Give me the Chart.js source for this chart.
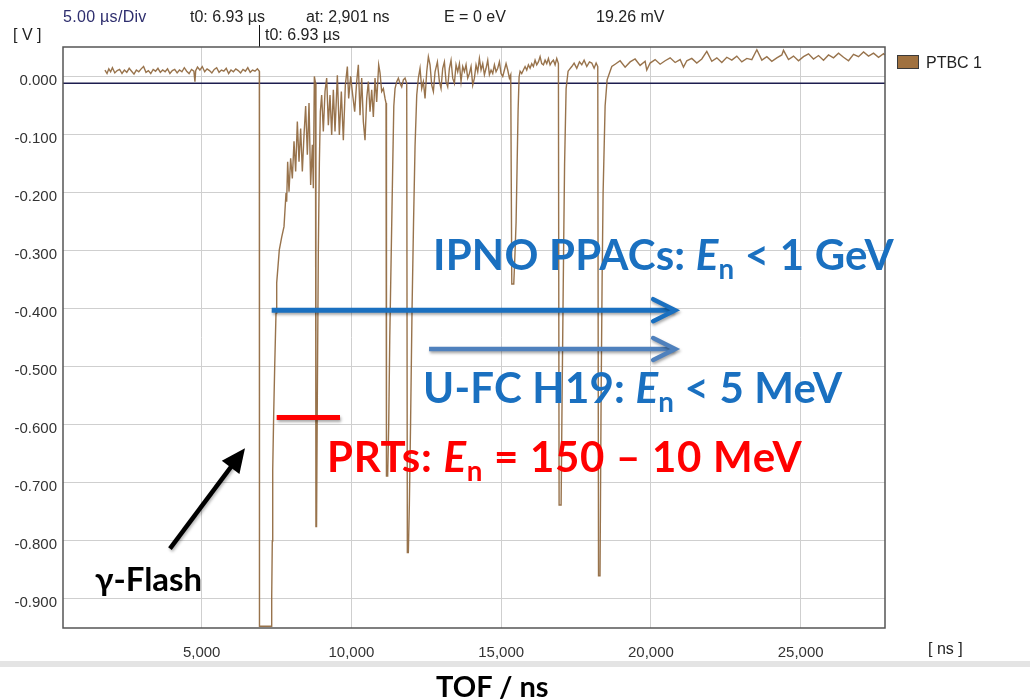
<!DOCTYPE html>
<html><head><meta charset="utf-8">
<script src="https://cdn.jsdelivr.net/npm/chart.js@4.4.1/dist/chart.umd.min.js"></script>
<style>
html,body{margin:0;padding:0;background:#fff;}
#wrap{position:relative;width:1030px;height:700px;overflow:hidden;font-family:"Liberation Sans",Arial,sans-serif;}
#c{position:absolute;left:0;top:0;}
.t{position:absolute;white-space:nowrap;line-height:1;}
.hdr{font-size:16px;color:#222;}
.ann{font-family:Lato,"Open Sans",sans-serif;font-weight:bold;font-size:42px;}
.ann i{font-style:italic;}
.ann .sb{font-size:0.66em;position:relative;top:0.32em;font-style:normal;}
#strip{position:absolute;left:0;top:661px;width:1030px;height:6px;background:#e4e4e4;}
</style></head>
<body><div id="wrap">
<canvas id="c" width="1030" height="700"></canvas>
<div id="strip"></div>
<div class="t hdr" style="left:63px;top:9px;color:#2e2e6e;letter-spacing:0.3px;">5.00 µs/Div</div>
<div class="t hdr" style="left:190px;top:9px;">t0: 6.93 µs</div>
<div class="t hdr" style="left:306px;top:9px;">at: 2,901 ns</div>
<div class="t hdr" style="left:444px;top:9px;">E = 0 eV</div>
<div class="t hdr" style="left:596px;top:9px;">19.26 mV</div>
<div class="t hdr" style="left:13px;top:27px;">[ V ]</div>
<div class="t hdr" style="left:265px;top:27px;">t0: 6.93 µs</div>
<div class="t hdr" style="left:926px;top:55px;">PTBC 1</div>
<div class="t hdr" style="left:928px;top:641px;">[ ns ]</div>
<div class="t ann" style="left:433px;top:233px;color:#1a70c0;letter-spacing:0.2px;">IPNO PPACs: <i>E</i><span class="sb">n</span> &lt; 1 GeV</div>
<div class="t ann" style="left:423px;top:366px;color:#1a70c0;letter-spacing:0.2px;">U-FC H19: <i>E</i><span class="sb">n</span> &lt; 5 MeV</div>
<div class="t ann" style="left:327px;top:435px;color:#ff0000;letter-spacing:0.7px;">PRTs: <i>E</i><span class="sb">n</span> = 150 – 10 MeV</div>
<div class="t ann" style="left:95px;top:562px;color:#000;font-size:33px;">γ-Flash</div>
<div class="t ann" style="left:436px;top:671px;color:#000;font-size:29px;">TOF / ns</div>
</div>
<script>
// ---------- DATA ----------
const xTicks = [5000, 10000, 15000, 20000, 25000];
const yTicks = [0, -0.1, -0.2, -0.3, -0.4, -0.5, -0.6, -0.7, -0.8, -0.9];
const seriesName = 'PTBC 1';
const t0Ns = 6930;
const baselineMarkV = -0.011;

// [TOF ns, signal V]
const preFlash = [
[1770,0.012],[1840,0.006],[1900,0.014],[1960,0.009],[2020,0.016],[2100,0.007],[2180,0.011],[2260,0.013],[2340,0.006],[2420,0.012],
[2500,0.008],[2580,0.015],[2660,0.010],[2740,0.005],[2820,0.012],[2900,0.009],[2980,0.014],[3060,0.018],[3140,0.008],[3220,0.011],
[3300,0.006],[3380,0.013],[3460,0.010],[3540,0.015],[3620,0.008],[3700,0.012],[3780,0.009],[3860,0.014],[3940,0.006],[4020,0.011],
[4100,0.013],[4180,0.007],[4260,0.012],[4340,0.009],[4420,0.016],[4500,0.010],[4580,0.006],[4660,0.013],[4740,0.010],[4775,-0.008],
[4800,0.011],[4860,0.017],[4940,0.012],[5020,0.018],[5100,0.009],[5180,0.014],[5260,0.011],[5340,0.007],[5420,0.013],[5500,0.016],
[5580,0.008],[5660,0.012],[5740,0.010],[5820,0.015],[5900,0.006],[5980,0.012],[6060,0.009],[6140,0.014],[6220,0.011],[6300,0.007],
[6380,0.013],[6460,0.010],[6540,0.016],[6620,0.008],[6700,0.012],[6780,0.010],[6860,0.014],[6925,0.010]
];
const gammaFlash = [
[6930,-0.947],[7315,-0.947],[7338,-0.897],[7358,-0.800],[7372,-0.678],[7405,-0.580],[7438,-0.500],[7482,-0.407],
[7505,-0.355],[7592,-0.298],[7672,-0.276],[7749,-0.258],[7816,-0.200]
];
const recovery = [
[7838,-0.215],[7871,-0.146],[7916,-0.198],[7971,-0.140],[8027,-0.175],[8083,-0.111],[8138,-0.163],[8194,-0.077],[8250,-0.146],[8305,-0.089],
[8361,-0.163],[8417,-0.100],[8472,-0.050],[8528,-0.134],[8584,-0.045],[8639,-0.186],[8695,-0.117],[8728,-0.192],[8762,0.001],[8800,-0.010],
[8815,-0.775],[8835,-0.775],[8862,-0.550],[8895,-0.300],[8929,-0.150],[8962,-0.060],
[9006,-0.031],[9062,-0.094],[9118,-0.025],[9174,-0.002],[9229,-0.083],[9285,-0.031],[9341,-0.100],[9396,-0.022],[9452,-0.094],[9530,0.003],
[9597,-0.100],[9663,-0.025],[9730,-0.109],[9797,-0.014],[9864,0.018],[9908,-0.037],[9975,0.001],[10042,-0.031],[10109,-0.060],[10176,-0.008],
[10231,0.021],[10287,-0.066],[10343,-0.002],[10398,-0.077],[10454,-0.109],[10510,-0.037],[10565,-0.008],[10621,-0.060],[10677,-0.022],[10732,-0.069],
[10788,-0.002],[10843,-0.043],[10910,0.021],[10955,0.007],[11010,-0.025],[11066,-0.020],[11122,-0.037],[11155,-0.045],
[11170,-0.688],[11210,-0.688],[11245,-0.600],[11280,-0.450],[11330,-0.300],[11380,-0.150],[11415,-0.050],[11456,-0.020],
[11512,-0.008],[11567,-0.002],[11623,-0.011],[11679,-0.017],[11734,-0.005],[11790,-0.002],[11846,-0.011],
[11867,-0.820],[11900,-0.820],[11934,-0.738],[11974,-0.600],[12024,-0.400],[12074,-0.250],[12124,-0.120],[12181,-0.031]
];
const midRegion = [
[12235,-0.002],[12291,0.015],[12347,-0.020],[12402,-0.008],[12458,-0.037],[12514,0.009],[12569,0.035],[12625,0.021],[12681,-0.014],[12736,-0.025],
[12792,0.009],[12870,0.026],[12937,-0.008],[12992,-0.020],[13048,0.015],[13104,0.026],[13159,-0.008],[13215,-0.017],[13271,0.015],[13326,0.029],
[13382,-0.002],[13438,-0.011],[13493,0.021],[13549,0.009],[13605,0.023],[13660,-0.008],[13716,0.018],[13772,0.009],[13827,0.021],[13883,-0.002],
[13939,0.006],[13994,0.018],[14050,-0.014],[14106,-0.002],[14161,0.021],[14217,0.009],[14273,0.032],[14328,0.012],[14384,0.023],[14440,0.004],
[14495,0.015],[14551,0.029],[14607,0.004],[14662,0.012],[14718,0.006],[14774,0.021],[14829,0.009],[14885,0.015],[14941,0.026],[14996,0.006],
[15052,0.001],[15108,0.012],[15163,0.023],[15219,0.012],[15275,-0.002],[15319,0.004],
[15354,-0.357],[15420,-0.357],[15464,-0.300],[15498,-0.250],[15531,-0.155],[15564,-0.060],[15598,0.000],[15631,0.010],
[15686,0.006],[15742,0.012],[15798,0.018],[15853,0.012],[15909,0.021],[15965,0.015],[16020,0.023],[16076,0.018],[16132,0.029],[16187,0.021],
[16243,0.026],[16299,0.035],[16354,0.023],[16410,0.021],[16466,0.029],[16521,0.023],[16577,0.032],[16633,0.021],[16688,0.026],[16744,0.029],
[16800,0.021],[16855,0.032],[16911,0.023],
[16934,-0.738],[17001,-0.738],[17034,-0.550],[17084,-0.300],[17117,-0.150],[17168,-0.020],[17234,0.010],
[17357,0.018],[17435,0.024],[17524,0.015],[17613,0.026],[17691,0.021],[17769,0.029],[17858,0.018],[17947,0.026],[18025,0.024],[18103,0.015],
[18170,0.024],[18225,0.018],
[18250,-0.860],[18300,-0.860],[18337,-0.550],[18370,-0.350],[18403,-0.200],[18470,-0.050],[18537,-0.005],[18637,0.010]
];
const tailRegion = [
[18693,0.018],[18804,0.022],[18971,0.028],[19138,0.017],[19305,0.026],[19471,0.031],[19639,0.020],[19806,0.027],[19861,0.012],[19973,0.024],
[20140,0.030],[20307,0.022],[20474,0.028],[20641,0.033],[20808,0.025],[20975,0.030],[21086,0.017],[21198,0.028],[21364,0.032],[21531,0.024],
[21698,0.031],[21865,0.044],[22032,0.027],[22200,0.033],[22366,0.025],[22533,0.034],[22700,0.029],[22867,0.036],[23034,0.026],[23202,0.032],
[23368,0.030],[23536,0.047],[23703,0.029],[23870,0.035],[24036,0.027],[24203,0.033],[24370,0.038],[24426,0.046],[24593,0.030],[24760,0.036],
[24927,0.028],[25094,0.035],[25261,0.040],[25428,0.031],[25595,0.037],[25762,0.029],[25929,0.038],[26096,0.033],[26263,0.041],[26430,0.034],
[26597,0.028],[26764,0.039],[26931,0.035],[27098,0.043],[27265,0.036],[27432,0.041],[27599,0.034],[27766,0.040],[27800,0.038]
];

// annotation anchors in data units [TOF ns, V]
const ipnoArrow = [[7338,-0.402],[20808,-0.402]];
const ufcArrow  = [[12592,-0.469],[20808,-0.469]];
const prtBar    = [[7505,-0.587],[9619,-0.587]];
const flashArrow= [[3941,-0.813],[6446,-0.640]];

const X_MIN = 370, X_MAX = 27815, Y_MIN = -0.95, Y_MAX = 0.0517;

// ---------- CHART ----------
const trace = [].concat(preFlash, gammaFlash, recovery, midRegion, tailRegion).map(p => ({x:p[0], y:p[1]}));

const overlay = {
  id:'overlay',
  beforeDatasetsDraw(chart){
    const {ctx, chartArea:a, scales:{x}} = chart;
    ctx.save();
    ctx.strokeStyle='#111'; ctx.lineWidth=1;
    const mx = Math.round(x.getPixelForValue(t0Ns))+0.5;
    ctx.beginPath(); ctx.moveTo(mx, 25); ctx.lineTo(mx, a.top); ctx.stroke();
    ctx.restore();
  },
  afterDraw(chart){
    const {ctx, chartArea:a, scales:{x,y}} = chart;
    const P = p => [x.getPixelForValue(p[0]), y.getPixelForValue(p[1])];
    ctx.save();
    ctx.strokeStyle='#555'; ctx.lineWidth=1.5;
    ctx.strokeRect(a.left, a.top, a.right-a.left, a.bottom-a.top);
    ctx.fillStyle='#a0713f'; ctx.strokeStyle='#3a3a3a'; ctx.lineWidth=1;
    ctx.fillRect(897.5,55.5,21,13); ctx.strokeRect(897.5,55.5,21,13);

    function line(p1,p2,color,w){
      const [x1,y1]=P(p1),[x2,y2]=P(p2);
      ctx.save();
      ctx.shadowColor='rgba(0,0,0,0.35)';ctx.shadowBlur=3;ctx.shadowOffsetX=1;ctx.shadowOffsetY=2;
      ctx.strokeStyle=color; ctx.lineWidth=w; ctx.lineCap='butt';
      ctx.beginPath(); ctx.moveTo(x1,y1); ctx.lineTo(x2,y2); ctx.stroke();
      ctx.restore();
    }
    function chevron(p1,p2,color,w,len,half){
      const [x1,y1]=P(p1),[x2,y2]=P(p2);
      const ang=Math.atan2(y2-y1,x2-x1);
      ctx.save();
      ctx.shadowColor='rgba(0,0,0,0.35)';ctx.shadowBlur=3;ctx.shadowOffsetX=1;ctx.shadowOffsetY=2;
      ctx.strokeStyle=color; ctx.lineWidth=w; ctx.lineJoin='miter'; ctx.lineCap='round';
      const bx=x2-len*Math.cos(ang), by=y2-len*Math.sin(ang);
      const nx=-Math.sin(ang)*half, ny=Math.cos(ang)*half;
      ctx.beginPath(); ctx.moveTo(bx+nx,by+ny); ctx.lineTo(x2,y2); ctx.lineTo(bx-nx,by-ny); ctx.stroke();
      ctx.restore();
    }
    function filledHead(p1,p2,color,len,half){
      const [x1,y1]=P(p1),[x2,y2]=P(p2);
      const ang=Math.atan2(y2-y1,x2-x1);
      const bx=x2-len*Math.cos(ang), by=y2-len*Math.sin(ang);
      const nx=-Math.sin(ang)*half, ny=Math.cos(ang)*half;
      ctx.save(); ctx.fillStyle=color;
      ctx.beginPath(); ctx.moveTo(x2,y2); ctx.lineTo(bx+nx,by+ny); ctx.lineTo(bx-nx,by-ny); ctx.closePath(); ctx.fill();
      ctx.restore();
    }
    line(ipnoArrow[0], [ipnoArrow[1][0]-40, ipnoArrow[1][1]], '#1a70c0', 5);
    chevron(ipnoArrow[0], ipnoArrow[1], '#1a70c0', 4.5, 22, 11);
    line(ufcArrow[0], [ufcArrow[1][0]-40, ufcArrow[1][1]], '#4f81bd', 4.5);
    chevron(ufcArrow[0], ufcArrow[1], '#4f81bd', 4.5, 22, 11);
    line(prtBar[0], prtBar[1], '#ff0000', 5);
    {
      const [x1,y1]=P(flashArrow[0]),[x2,y2]=P(flashArrow[1]);
      const ang=Math.atan2(y2-y1,x2-x1);
      const ex=x2-18*Math.cos(ang), ey=y2-18*Math.sin(ang);
      ctx.save(); ctx.strokeStyle='#000'; ctx.lineWidth=4.5;
      ctx.shadowColor='rgba(0,0,0,0.3)';ctx.shadowBlur=3;ctx.shadowOffsetX=1;ctx.shadowOffsetY=2;
      ctx.beginPath(); ctx.moveTo(x1,y1); ctx.lineTo(ex,ey); ctx.stroke(); ctx.restore();
      filledHead(flashArrow[0], flashArrow[1], '#000', 24, 11);
    }
    ctx.restore();
  }
};

new Chart(document.getElementById('c'), {
  type:'line',
  data:{datasets:[
    {label:'zero', data:[{x:X_MIN,y:baselineMarkV},{x:X_MAX,y:baselineMarkV}], borderColor:'#1d1d4f', borderWidth:1.5, pointRadius:0, order:2},
    {label:seriesName, data:trace, borderColor:'rgba(146,108,66,0.95)', borderWidth:1.4, pointRadius:0, tension:0, order:1}
  ]},
  options:{
    responsive:false, animation:false, events:[],
    layout:{padding:{left:0, top:47, right:145, bottom:0}},
    plugins:{legend:{display:false}, tooltip:{enabled:false}, title:{display:false}},
    scales:{
      x:{type:'linear', min:X_MIN, max:X_MAX,
         afterFit(s){s.height=72;},
         afterBuildTicks(s){s.ticks=xTicks.map(v=>({value:v}));},
         grid:{color:'#cfcfcf', lineWidth:1, drawTicks:false},
         border:{display:false},
         ticks:{padding:16, color:'#333', font:{family:'Liberation Sans', size:15},
                callback:v=>v.toLocaleString('en-US'), maxRotation:0, autoSkip:false}},
      y:{type:'linear', min:Y_MIN, max:Y_MAX,
         afterFit(s){s.width=63;},
         afterBuildTicks(s){s.ticks=yTicks.map(v=>({value:v}));},
         grid:{color:'#cfcfcf', lineWidth:1, drawTicks:false},
         border:{display:false},
         ticks:{padding:6, color:'#333', font:{family:'Liberation Sans', size:15}, labelOffset:4,
                callback:v=>(Math.abs(v)<1e-9?0:v).toFixed(3)}}
    }
  },
  plugins:[overlay]
});
</script>
</body></html>
